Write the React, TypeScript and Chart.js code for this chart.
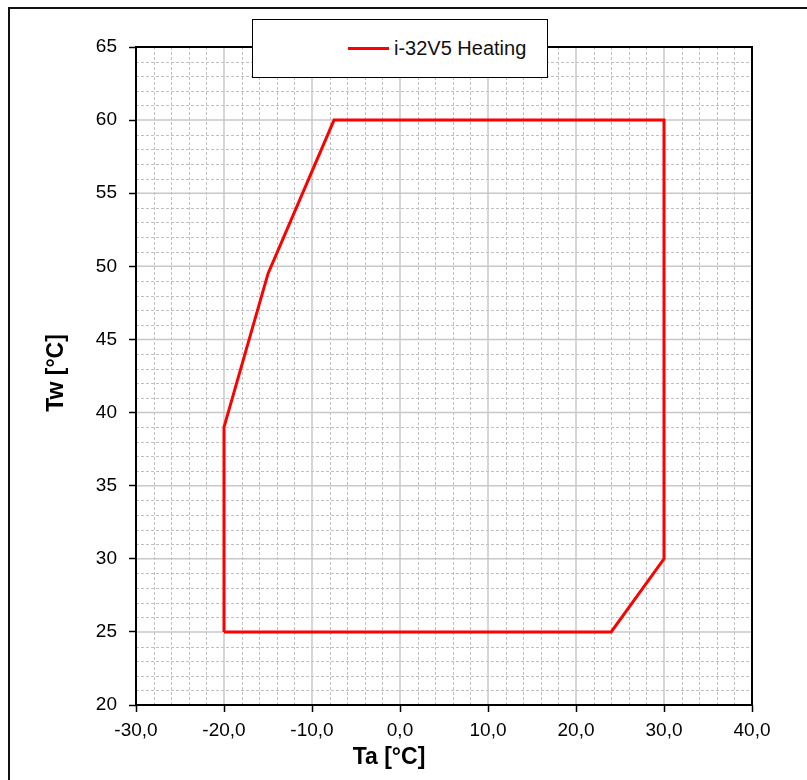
import React, { useEffect, useRef } from "react";
import { Chart, registerables } from "chart.js";

Chart.register(...registerables);

const seriesLabel = "i-32V5 Heating";
const taValues = [-20, -20, -15, -7.5, 30, 30, 24, -20];
const twValues = [25, 39, 49.5, 60, 60, 30, 25, 25];
const xMin = -30, xMax = 40, xMajor = 10, xMinor = 2;
const yMin = 20, yMax = 65, yMajor = 5, yMinor = 1;
const xTitle = "Ta [°C]";
const yTitle = "Tw [°C]";

const FONT = "'Liberation Sans', Arial, sans-serif";

const gridPlugin = {
  id: "customGrid",
  beforeDatasetsDraw(chart: any) {
    const { ctx, chartArea, scales } = chart;
    const xs = scales.x, ys = scales.y;
    ctx.save();
    ctx.lineWidth = 1;
    ctx.strokeStyle = "#c0c0c0";
    ctx.setLineDash([3, 2]);
    for (let v = xMin; v <= xMax; v += xMinor) {
      if (v % xMajor === 0) continue;
      const px = Math.round(xs.getPixelForValue(v)) + 0.5;
      ctx.beginPath(); ctx.moveTo(px, chartArea.top); ctx.lineTo(px, chartArea.bottom); ctx.stroke();
    }
    for (let v = yMin; v <= yMax; v += yMinor) {
      if (v % yMajor === 0) continue;
      const py = Math.round(ys.getPixelForValue(v)) + 0.5;
      ctx.beginPath(); ctx.moveTo(chartArea.left, py); ctx.lineTo(chartArea.right, py); ctx.stroke();
    }
    ctx.setLineDash([]);
    ctx.strokeStyle = "#c8c8c8";
    ctx.lineWidth = 1.5;
    for (let v = xMin; v <= xMax; v += xMajor) {
      const px = xs.getPixelForValue(v);
      ctx.beginPath(); ctx.moveTo(px, chartArea.top); ctx.lineTo(px, chartArea.bottom); ctx.stroke();
    }
    for (let v = yMin; v <= yMax; v += yMajor) {
      const py = ys.getPixelForValue(v);
      ctx.beginPath(); ctx.moveTo(chartArea.left, py); ctx.lineTo(chartArea.right, py); ctx.stroke();
    }
    ctx.restore();
  },
  afterDraw(chart: any) {
    const { ctx, chartArea } = chart;
    ctx.save();
    ctx.strokeStyle = "#000";
    ctx.lineWidth = 2;
    ctx.strokeRect(chartArea.left, chartArea.top, chartArea.right - chartArea.left, chartArea.bottom - chartArea.top);
    ctx.fillStyle = "#000";
    ctx.font = `bold 23px ${FONT}`;
    ctx.textAlign = "center";
    ctx.textBaseline = "middle";
    ctx.fillText(xTitle, 389, 758);
    ctx.translate(57, 373);
    ctx.rotate(-Math.PI / 2);
    ctx.fillText(yTitle, 0, 0);
    ctx.restore();
  },
};

export default function App() {
  const ref = useRef<HTMLCanvasElement>(null);
  useEffect(() => {
    if (!ref.current) return;
    const chart = new Chart(ref.current, {
      type: "scatter",
      data: {
        datasets: [
          {
            label: seriesLabel,
            data: taValues.map((x, i) => ({ x, y: twValues[i] })),
            showLine: true,
            borderColor: "#ff0000",
            backgroundColor: "#ff0000",
            borderWidth: 3,
            pointRadius: 0,
            borderJoinStyle: "miter",
          },
        ],
      },
      options: {
        animation: false,
        responsive: false,
        layout: { padding: { left: 0, top: 47, right: 55, bottom: 0 } },
        plugins: { legend: { display: false }, tooltip: { enabled: false } },
        scales: {
          x: {
            type: "linear",
            min: xMin,
            max: xMax,
            afterFit(s: any) { s.height = 75; },
            ticks: {
              stepSize: xMajor,
              color: "#000",
              font: { family: FONT, size: 19 },
              padding: 7,
              maxRotation: 0,
              callback: (v: any) => Number(v).toFixed(1).replace(".", ","),
            },
            grid: { drawOnChartArea: false, tickLength: 7, tickColor: "#000", tickWidth: 1.5 },
            border: { display: false },
          },
          y: {
            type: "linear",
            min: yMin,
            max: yMax,
            afterFit(s: any) { s.width = 136; },
            ticks: {
              stepSize: yMajor,
              color: "#000",
              font: { family: FONT, size: 19 },
              padding: 12,
            },
            grid: { drawOnChartArea: false, tickLength: 7, tickColor: "#000", tickWidth: 1.5 },
            border: { display: false },
          },
        },
      },
      plugins: [gridPlugin],
    });
    return () => chart.destroy();
  }, []);

  return (
    <div style={{ position: "absolute", left: 0, top: 0, width: 807, height: 780, overflow: "hidden", background: "#fff" }}>
      <div style={{ position: "absolute", left: 8, top: 7, width: 900, height: 900, borderLeft: "2px solid #111", borderTop: "2px solid #111" }} />
      <canvas ref={ref} width={807} height={780} style={{ position: "absolute", left: 0, top: 0 }} />
      <div
        style={{
          position: "absolute",
          left: 252,
          top: 19,
          width: 294,
          height: 57,
          border: "1.5px solid #000",
          background: "#fff",
        }}
      >
        <div style={{ position: "absolute", left: 95, top: 27, width: 41, height: 3, background: "#ff0000" }} />
        <div
          style={{
            position: "absolute",
            left: 141,
            top: 17,
            fontFamily: FONT,
            fontSize: 20,
            lineHeight: "22px",
            color: "#111",
            whiteSpace: "nowrap",
          }}
        >
          {seriesLabel}
        </div>
      </div>
    </div>
  );
}
